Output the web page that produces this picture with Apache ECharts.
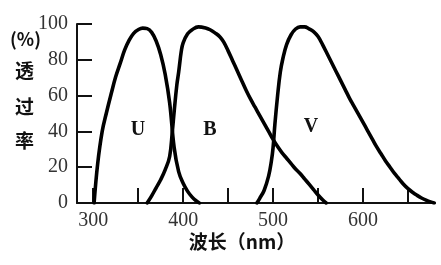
<!DOCTYPE html>
<html><head><meta charset="utf-8">
<script src="https://cdn.jsdelivr.net/npm/echarts@6/dist/echarts.min.js"></script>
<style>html,body{margin:0;padding:0;background:#fff}#c{width:441px;height:265px}</style>
</head><body><div id="c"></div>
<script>
const xTicks = [300, 350, 400, 450, 500, 550, 600, 650];
const xLabels = [300, 400, 500, 600];
const uNm  = [301, 305, 310, 315, 320, 325, 330, 335, 340, 345, 350, 355, 360, 365, 370, 375, 380, 385, 390, 395, 400, 405, 410, 415, 418];
const uVal = [0, 22, 40, 51, 61, 70.5, 78, 85.5, 91, 94.8, 96.8, 97.7, 97.4, 95.3, 90.5, 83, 72, 56, 31, 17.5, 11, 6.5, 3.3, 1, 0];
const bNm  = [360, 365, 370, 375, 380, 385, 388, 390, 393, 395, 398, 400, 405, 410, 417, 425, 430, 435, 441, 445, 450, 455, 460, 465, 470, 475, 480, 485, 490, 495, 500, 505, 510, 515, 520, 525, 530, 535, 540, 545, 550, 555, 559];
const bVal = [0, 4, 8.5, 13, 18.5, 26, 40, 51, 66, 73, 85, 89.5, 94.5, 96.8, 98.4, 97.8, 96.8, 95.2, 92.8, 90, 85, 79.5, 74, 68.5, 63, 58, 53.5, 49, 44.5, 40, 35.5, 31.5, 28, 25, 22, 19, 16.5, 13.5, 10.5, 7.5, 4.5, 1.8, 0];
const vNm  = [482, 485, 490, 495, 498, 500, 502, 505, 508, 511, 515, 520, 525, 530, 535, 540, 545, 550, 555, 560, 565, 570, 575, 580, 585, 590, 595, 600, 605, 610, 615, 620, 625, 630, 635, 640, 645, 650, 655, 660, 665, 670, 675, 679];
const vVal = [0, 2.5, 7, 15, 23, 31, 44, 60, 73, 81, 88.5, 94, 97.2, 98.4, 98.4, 97.3, 95.8, 93, 88.5, 83.5, 78.5, 73.5, 68.5, 63.5, 58.5, 54, 49.5, 45, 40.5, 36, 31.5, 27.5, 23.5, 20, 16.5, 13.5, 10.5, 8, 6, 4.3, 2.8, 1.6, 0.6, 0];

function pairs(xs, ys) { return xs.map((x, i) => [x, ys[i]]); }
const chart = echarts.init(document.getElementById('c'), null, {renderer: 'canvas'});
const lineStyle = {color: '#000', width: 3.6, cap: 'round', join: 'round'};
function ser(name, xs, ys) {
  return {name, type: 'line', data: pairs(xs, ys), smooth: 0.4,
    showSymbol: false, lineStyle, silent: true, animation: false};
}
const serif = '"Liberation Serif", "DejaVu Serif", serif';
const cjk = '"Noto Sans CJK SC", sans-serif';
chart.setOption({
  animation: false,
  backgroundColor: '#fff',
  grid: {left: 77, right: 6, top: 24, bottom: 62, containLabel: false},
  xAxis: {
    type: 'value', min: 282, max: 680,
    axisLine: {show: true, lineStyle: {color: '#111', width: 2}},
    axisTick: {show: true, inside: true, length: 15, lineStyle: {color: '#111', width: 2}, customValues: xTicks},
    axisLabel: {show: true, customValues: xLabels, margin: 8, fontFamily: serif, fontSize: 20, color: '#333'},
    splitLine: {show: false}
  },
  yAxis: {
    type: 'value', min: 0, max: 100, interval: 20,
    axisLine: {show: true, lineStyle: {color: '#111', width: 2}},
    axisTick: {show: true, inside: true, length: 15, lineStyle: {color: '#111', width: 2}},
    axisLabel: {margin: 9, fontFamily: serif, fontSize: 20, color: '#333'},
    splitLine: {show: false}
  },
  series: [ser('U', uNm, uVal), ser('B', bNm, bVal), ser('V', vNm, vVal)],
  graphic: [
    {type: 'text', left: 10, top: 30, style: {text: '(%)', font: 'bold 18px ' + cjk, fill: '#111'}},
    {type: 'text', left: 15, top: 61, style: {text: '透', font: 'bold 19px ' + cjk, fill: '#111'}},
    {type: 'text', left: 15, top: 97, style: {text: '过', font: 'bold 19px ' + cjk, fill: '#111'}},
    {type: 'text', left: 15, top: 131, style: {text: '率', font: 'bold 19px ' + cjk, fill: '#111'}},
    {type: 'text', x: 242, y: 242, style: {text: '波长（nm）', font: 'bold 19px ' + cjk, fill: '#111', align: 'center', verticalAlign: 'middle'}},
    {type: 'text', x: 138, y: 130, style: {text: 'U', font: 'bold 20px ' + serif, fill: '#111', align: 'center', verticalAlign: 'middle'}},
    {type: 'text', x: 210, y: 130, style: {text: 'B', font: 'bold 20px ' + serif, fill: '#111', align: 'center', verticalAlign: 'middle'}},
    {type: 'text', x: 311, y: 127, style: {text: 'V', font: 'bold 20px ' + serif, fill: '#111', align: 'center', verticalAlign: 'middle'}}
  ]
});
</script>
</body></html>
